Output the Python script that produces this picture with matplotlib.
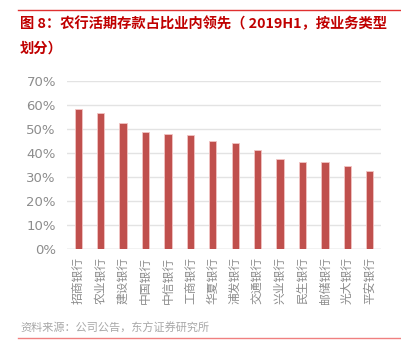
import matplotlib
matplotlib.use("Agg")
import matplotlib.pyplot as plt
from matplotlib.lines import Line2D

plt.rcParams['font.family'] = ['Noto Sans CJK SC', 'DejaVu Sans']

banks = ["招商银行", "农业银行", "建设银行", "中国银行", "中信银行", "工商银行", "华夏银行",
         "浦发银行", "交通银行", "兴业银行", "民生银行", "邮储银行", "光大银行", "平安银行"]
values = [58.5, 56.8, 52.4, 48.6, 47.8, 47.6, 44.9, 44.0, 41.2, 37.5, 36.4, 36.1, 34.7, 32.5]
yticks = [0, 10, 20, 30, 40, 50, 60, 70]

W, H = 402, 356
fig = plt.figure(figsize=(W / 100, H / 100), dpi=100)

red = "#C00000"
# top red line
fig.add_artist(Line2D([18 / W, 1.0], [1 - 10 / H, 1 - 10 / H], color="#E03030", lw=1.0))
fig.text(20 / W, 1 - 24 / H, "图 8：农行活期存款占比业内领先（ 2019H1，按业务类型",
         color=red, fontsize=10.3, fontweight="bold", va="center", ha="left")
fig.text(20 / W, 1 - 49 / H, "划分）", color=red, fontsize=10.3, fontweight="bold",
         va="center", ha="left")

ax = fig.add_axes([67 / W, 1 - 249 / H, (381 - 67) / W, (249 - 81) / H])
x = range(len(banks))
ax.bar(x, values, width=0.32, color="#C0504D", edgecolor="#F2C4C3", linewidth=0.6, zorder=3)
ax.set_xlim(-0.5, len(banks) - 0.5)
ax.set_ylim(0, 70)
ax.set_yticks(yticks)
ax.set_yticklabels([f"{v}%" for v in yticks], color="#8C8C8C", fontsize=9.5,
                   family=['DejaVu Sans'])
ax.set_xticks(list(x))
ax.set_xticklabels(banks, rotation=90, color="#8C8C8C", fontsize=8.5)
ax.grid(axis="y", color="#E3E3E3", lw=1.0, zorder=0)
for s in ax.spines.values():
    s.set_visible(False)
ax.tick_params(axis="both", length=0, pad=6)
ax.tick_params(axis="y", pad=8)
ax.axhline(0, color="#D9D9D9", lw=1.0, zorder=2)

fig.text(20 / W, 1 - 328 / H, "资料来源：公司公告，东方证券研究所", color="#A8A8A8",
         fontsize=8, va="center", ha="left")
fig.add_artist(Line2D([18 / W, 1.0], [1 - 338 / H, 1 - 338 / H], color="#F08080", lw=1.0))

fig.savefig("out.png", dpi=100)
